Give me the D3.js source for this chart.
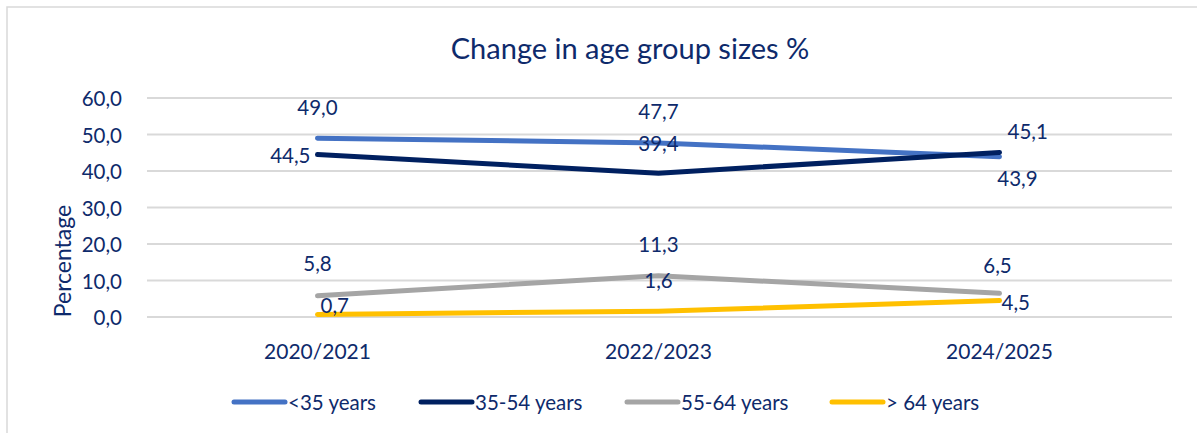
<!DOCTYPE html>
<html>
<head>
<meta charset="utf-8">
<script src="https://cdn.jsdelivr.net/npm/d3@7"></script>
<style>
  body { margin: 0; background: #fff; }
  text { font-family: Lato, "Open Sans", sans-serif; }
</style>
</head>
<body>
<div id="vis"></div>
<script>
// chart values
const categories = ["2020/2021", "2022/2023", "2024/2025"];
const seriesNames = ["<35 years", "35-54 years", "55-64 years", "> 64 years"];
const under35 = [49.0, 47.7, 43.9];
const age35to54 = [44.5, 39.4, 45.1];
const age55to64 = [5.8, 11.3, 6.5];
const over64 = [0.7, 1.6, 4.5];
const yTicks = [0, 10, 20, 30, 40, 50, 60];

const seriesValues = [under35, age35to54, age55to64, over64];
const colors = ["#4472C4", "#002060", "#A5A5A5", "#FFC000"];
const textColor = "#0E2A6B";

// label placement per series / point: [dx, dy, anchor]
const labelPlace = [
    [[0, -31, "middle"], [0, -32, "middle"], [18, 21, "middle"]],
    [[-7, 0, "end"], [0, -30, "middle"], [8, -21, "start"]],
    [[0, -33, "middle"], [0, -32, "middle"], [-2, -28, "middle"]],
    [[3, -9, "start"], [0, -31, "middle"], [2, 1, "start"]]
];

const svg = d3.select("#vis")
    .append("svg")
    .attr("width", 1197)
    .attr("height", 433);

const width = +svg.attr("width");
const height = +svg.attr("height");

svg.append("rect")
    .attr("x", 7)
    .attr("y", 7)
    .attr("width", width + 10)
    .attr("height", height + 10)
    .attr("fill", "#fff")
    .attr("stroke", "#d9d9d9")
    .attr("stroke-width", 1.5);

const x = d3.scalePoint()
    .domain(categories)
    .range([147, 1170])
    .padding(0.5);

const y = d3.scaleLinear()
    .domain([0, 60])
    .range([317, 98]);

// title
svg.append("text")
    .attr("x", 630)
    .attr("y", 47)
    .attr("text-anchor", "middle")
    .attr("dominant-baseline", "central")
    .attr("font-size", 29)
    .attr("fill", textColor)
    .text("Change in age group sizes %");

// gridlines
svg.append("g")
    .selectAll("line")
    .data(yTicks)
    .enter()
    .append("line")
    .attr("x1", 147)
    .attr("x2", 1172)
    .attr("y1", d => y(d))
    .attr("y2", d => y(d))
    .attr("stroke", "#d9d9d9")
    .attr("stroke-width", 2);

// y axis tick labels
svg.append("g")
    .selectAll("text")
    .data(yTicks)
    .enter()
    .append("text")
    .attr("x", 122)
    .attr("y", d => y(d))
    .attr("text-anchor", "end")
    .attr("dominant-baseline", "central")
    .attr("font-size", 20.5)
    .attr("fill", textColor)
    .text(d => d.toFixed(1).replace(".", ","));

// y axis title
svg.append("text")
    .attr("transform", "translate(62,261) rotate(-90)")
    .attr("text-anchor", "middle")
    .attr("dominant-baseline", "central")
    .attr("font-size", 23)
    .attr("fill", textColor)
    .text("Percentage");

// x axis labels
svg.append("g")
    .selectAll("text")
    .data(categories)
    .enter()
    .append("text")
    .attr("x", d => x(d))
    .attr("y", 350)
    .attr("text-anchor", "middle")
    .attr("dominant-baseline", "central")
    .attr("font-size", 21)
    .attr("fill", textColor)
    .text(d => d);

// lines
const line = d3.line()
    .x((d, i) => x(categories[i]))
    .y(d => y(d));

const lines = svg.append("g");
seriesValues.forEach(function (vals, s) {
    lines.append("path")
        .datum(vals)
        .attr("d", line)
        .attr("fill", "none")
        .attr("stroke", colors[s])
        .attr("stroke-width", 5)
        .attr("stroke-linecap", "round")
        .attr("stroke-linejoin", "round");
});

// data labels
const labels = svg.append("g");
seriesValues.forEach(function (vals, s) {
    labels.selectAll(".lab" + s)
        .data(vals)
        .enter()
        .append("text")
        .attr("class", "lab" + s)
        .attr("x", (d, i) => x(categories[i]) + labelPlace[s][i][0])
        .attr("y", (d, i) => y(d) + labelPlace[s][i][1])
        .attr("text-anchor", (d, i) => labelPlace[s][i][2])
        .attr("dominant-baseline", "central")
        .attr("font-size", 20.5)
        .attr("fill", textColor)
        .text(d => d.toFixed(1).replace(".", ","));
});

// legend
const legendX = [231, 418, 624, 829];
const legend = svg.append("g");
seriesNames.forEach(function (name, s) {
    legend.append("line")
        .attr("x1", legendX[s] + 3)
        .attr("x2", legendX[s] + 54)
        .attr("y1", 402)
        .attr("y2", 402)
        .attr("stroke", colors[s])
        .attr("stroke-width", 5)
        .attr("stroke-linecap", "round");
    legend.append("text")
        .attr("x", legendX[s] + 57)
        .attr("y", 402)
        .attr("dominant-baseline", "central")
        .attr("font-size", 20.5)
        .attr("fill", textColor)
        .text(name);
});
</script>
</body>
</html>
